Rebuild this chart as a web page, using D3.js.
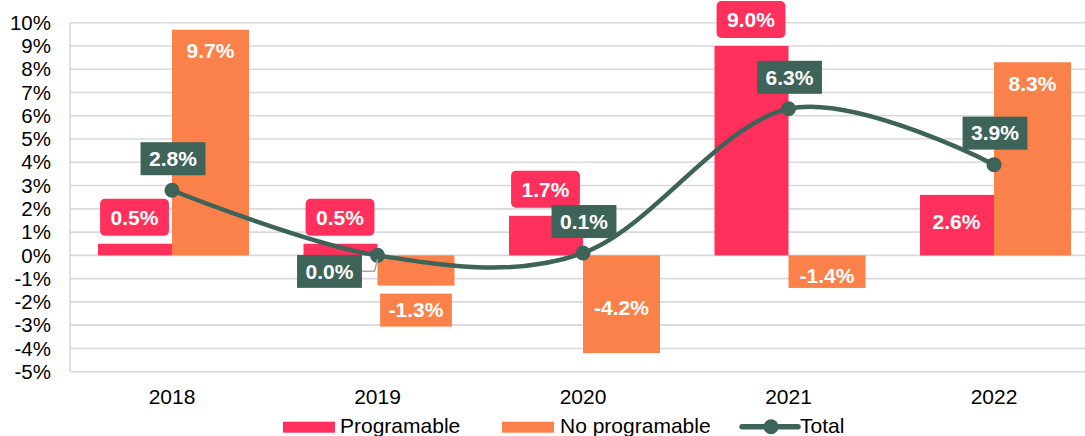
<!DOCTYPE html>
<html>
<head>
<meta charset="utf-8">
<script src="https://cdn.jsdelivr.net/npm/d3@7"></script>
<style>
  html, body { margin: 0; padding: 0; background: #fff; }
  svg { display: block; font-family: "Liberation Sans", Arial, sans-serif; }
</style>
</head>
<body>
<svg id="chart" width="1085" height="436"></svg>
<script>
"use strict"

const categories = ["2018", "2019", "2020", "2021", "2022"]
const programable = [0.5, 0.5, 1.7, 9.0, 2.6]
const noProgramable = [9.7, -1.3, -4.2, -1.4, 8.3]
const total = [2.8, 0.0, 0.1, 6.3, 3.9]
const yTicks = [-5, -4, -3, -2, -1, 0, 1, 2, 3, 4, 5, 6, 7, 8, 9, 10]
const seriesNames = ["Programable", "No programable", "Total"]

const colors = { prog: "#FF305C", noProg: "#FA824A", total: "#3E6359", grid: "#D9D9D9" }

const svg = d3.select("#chart")
const width = 1085

// the plot runs past the right edge, the picture is cut there
const x = d3.scaleBand().domain(categories).range([69.25, 1096.75])
const y = d3.scaleLinear().domain([-5, 10]).range([371.7, 22.7])
const cx = c => x(c) + x.bandwidth() / 2
const barW = 75

// grid
svg.append("g")
    .selectAll("line")
    .data(yTicks)
    .join("line")
    .attr("x1", 70).attr("x2", width)
    .attr("y1", d => y(d)).attr("y2", d => y(d))
    .style("stroke", colors.grid)
    .style("stroke-width", 1.6)

svg.append("line")
    .attr("x1", 70).attr("x2", 70)
    .attr("y1", y(10)).attr("y2", y(-5))
    .style("stroke", colors.grid)
    .style("stroke-width", 1.6)

// y axis labels
svg.append("g")
    .selectAll("text")
    .data(yTicks)
    .join("text")
    .attr("x", 51)
    .attr("y", d => y(d))
    .attr("dy", "0.35em")
    .style("text-anchor", "end")
    .style("font-size", "20.5px")
    .style("fill", "#000")
    .text(d => d + "%")

// x axis labels
svg.append("g")
    .selectAll("text")
    .data(categories)
    .join("text")
    .attr("x", d => cx(d))
    .attr("y", 404.3)
    .style("text-anchor", "middle")
    .style("font-size", "21px")
    .style("fill", "#000")
    .text(d => d)

// bars
svg.append("g")
    .selectAll("rect")
    .data(programable)
    .join("rect")
    .attr("x", (d, i) => cx(categories[i]) - barW + 1)
    .attr("width", barW - 1)
    .attr("y", d => Math.min(y(d), y(0)))
    .attr("height", d => Math.abs(y(d) - y(0)))
    .style("fill", colors.prog)

svg.append("g")
    .selectAll("rect")
    .data(noProgramable)
    .join("rect")
    .attr("x", (d, i) => cx(categories[i]))
    .attr("width", barW + 2)
    .attr("y", d => Math.min(y(d), y(0)))
    .attr("height", d => Math.abs(y(d) - y(0)))
    .style("fill", colors.noProg)

// total line
const line = d3.line()
    .x((d, i) => cx(categories[i]))
    .y(d => y(d))
    .curve(d3.curveCardinal.tension(0))

svg.append("path")
    .datum(total)
    .attr("d", line)
    .style("fill", "none")
    .style("stroke", colors.total)
    .style("stroke-width", 4.5)

svg.append("g")
    .selectAll("circle")
    .data(total)
    .join("circle")
    .attr("cx", (d, i) => cx(categories[i]))
    .attr("cy", d => y(d))
    .attr("r", 7.5)
    .style("fill", colors.total)

// data labels
const fmt = v => v.toFixed(1) + "%"
const labels = svg.append("g")

function addLabel(txt, px, py, fill, padX, h, rx) {
    const g = labels.append("g")
    const rect = g.append("rect")
    const t = g.append("text")
        .attr("x", px)
        .attr("y", py)
        .attr("dy", "0.35em")
        .style("text-anchor", "middle")
        .style("font-size", "21px")
        .style("font-weight", "bold")
        .style("fill", "#fff")
        .text(txt)
    const w = t.node().getComputedTextLength() + padX * 2
    if (fill) {
        rect.attr("x", px - w / 2).attr("y", py - h / 2)
            .attr("width", w).attr("height", h)
            .attr("rx", rx).attr("ry", rx)
            .style("fill", fill)
    } else rect.remove()
    return { left: px - w / 2, right: px + w / 2 }
}

const progMode = ["out", "out", "out", "out", "center"]
const noProgMode = ["inEnd", "out", "center", "center", "inEnd"]

programable.forEach((v, i) => {
    const bx = cx(categories[i]) - barW / 2
    if (progMode[i] === "out") addLabel(fmt(v), bx, y(v) - 8 - 18.5, colors.prog, 10.5, 37, 5)
    else addLabel(fmt(v), bx, (y(v) + y(0)) / 2 - 3, null)
})

noProgramable.forEach((v, i) => {
    const bx = cx(categories[i]) + barW / 2 + 1
    if (noProgMode[i] === "out") addLabel(fmt(v), bx, y(v) + 8 + 16.5, colors.noProg, 8.5, 33, 0)
    else if (noProgMode[i] === "inEnd") addLabel(fmt(v), bx, y(v) + 21, null)
    else addLabel(fmt(v), bx, (y(v) + y(0)) / 2 + 3.5, null)
})

total.forEach((v, i) => {
    const px = cx(categories[i])
    if (i === 1) {
        const ly = y(v) + 16
        const b = addLabel(fmt(v), px - 48, ly, colors.total, 8.5, 33, 0)
        labels.insert("polyline", ":first-child")
            .attr("points", [[b.right, ly], [px - 3, ly], [px, y(v) + 4]].map(p => p.join(",")).join(" "))
            .style("fill", "none")
            .style("stroke", "#A6A6A6")
            .style("stroke-width", 1.5)
    } else {
        addLabel(fmt(v), px + 1, y(v) - 15 - 16.5, colors.total, 8.5, 33, 0)
    }
})

// legend
const legend = svg.append("g").style("font-size", "21px")
legend.append("rect").attr("x", 283).attr("y", 421.7).attr("width", 52).attr("height", 11).style("fill", colors.prog)
legend.append("text").attr("x", 340).attr("y", 433.3).text(seriesNames[0])
legend.append("rect").attr("x", 502).attr("y", 421.7).attr("width", 52).attr("height", 11).style("fill", colors.noProg)
legend.append("text").attr("x", 560).attr("y", 433.3).text(seriesNames[1])
legend.append("line").attr("x1", 742).attr("x2", 798).attr("y1", 426.7).attr("y2", 426.7)
    .style("stroke", colors.total).style("stroke-width", 5.5)
    .style("stroke-linecap", "round")
legend.append("circle").attr("cx", 771).attr("cy", 426.7).attr("r", 7.5).style("fill", colors.total)
legend.append("text").attr("x", 800).attr("y", 433.3).text(seriesNames[2])
</script>
</body>
</html>
